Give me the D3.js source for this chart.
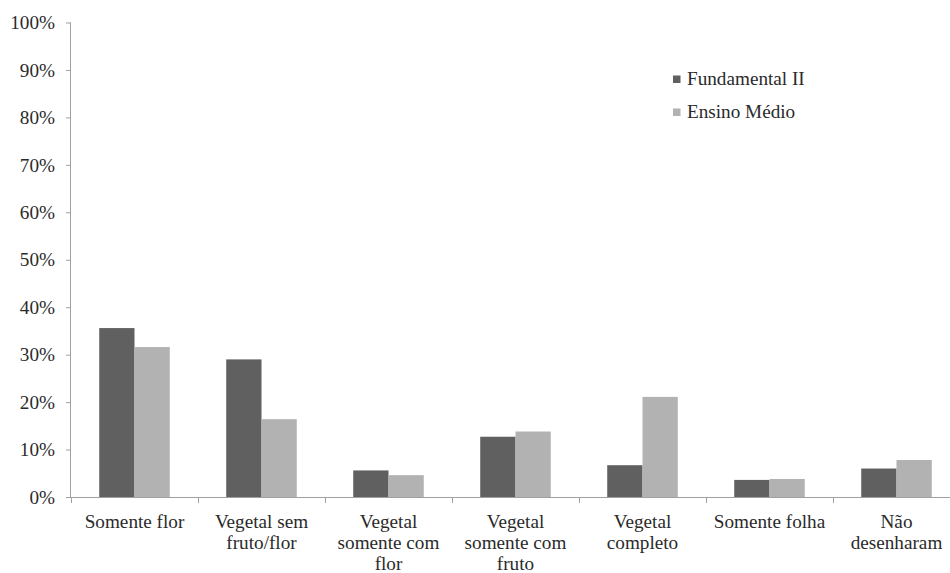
<!DOCTYPE html>
<html>
<head>
<meta charset="utf-8">
<script src="https://cdn.jsdelivr.net/npm/d3@7/dist/d3.min.js"></script>
<style>
  html, body { margin: 0; padding: 0; background: #fff; font-family: "Liberation Serif", serif; }
  svg { display: block; font-family: "Liberation Serif", serif; }
</style>
</head>
<body>
<svg id="chart" width="950" height="573" font-family="Liberation Serif"></svg>
<script>
const categories = ["Somente flor", "Vegetal sem fruto/flor", "Vegetal somente com flor", "Vegetal somente com fruto", "Vegetal completo", "Somente folha", "Não desenharam"];
const categoryLines = [["Somente flor"], ["Vegetal sem", "fruto/flor"], ["Vegetal", "somente com", "flor"], ["Vegetal", "somente com", "fruto"], ["Vegetal", "completo"], ["Somente folha"], ["Não", "desenharam"]];
const seriesNames = ["Fundamental II", "Ensino Médio"];
const fundamental = [35.6, 29.0, 5.6, 12.7, 6.7, 3.6, 6.0];
const ensinoMedio = [31.6, 16.4, 4.6, 13.8, 21.1, 3.8, 7.8];
const yTicks = [0, 10, 20, 30, 40, 50, 60, 70, 80, 90, 100];
const colors = ["#606060", "#b2b2b2"];

(function () {
const svg = d3.select("#chart");
const mLeft = 71, mRight = 960, mTop = 22.5, mBottom = 497;
const fontSize = 19.2;
const FONT = "Liberation Serif";
const textColor = "#2a2a2a";

const x = d3.scaleBand().domain(categories).range([mLeft, mRight]).paddingInner(0).paddingOuter(0);
const inner = d3.scaleBand().domain(seriesNames).range([0, x.bandwidth()]).paddingInner(0).paddingOuter(0.8);
const y = d3.scaleLinear().domain([0, 100]).range([mBottom, mTop]);

const axisColor = "#a0a0a0";

// y axis
const yAxis = svg.append("g").attr("transform", `translate(${mLeft},0)`)
  .call(d3.axisLeft(y).tickValues(yTicks).tickFormat(d => d + "%").tickSize(5).tickPadding(11));
yAxis.attr("font-family", FONT).attr("font-size", fontSize);
yAxis.select(".domain").attr("stroke", axisColor).attr("d", `M-0.5,${mTop}V${mBottom}`);
yAxis.selectAll(".tick line").attr("stroke", axisColor);
yAxis.selectAll(".tick text").attr("font-size", fontSize).style("font-family", FONT).attr("fill", textColor);

// x axis line and boundary ticks
const boundaries = categories.map(c => x(c));
svg.append("line").attr("x1", mLeft).attr("x2", mRight).attr("y1", mBottom + 0.5).attr("y2", mBottom + 0.5)
  .attr("stroke", axisColor);
svg.selectAll(".xtick").data(boundaries).enter().append("line")
  .attr("x1", d => Math.round(d) + 0.5).attr("x2", d => Math.round(d) + 0.5)
  .attr("y1", mBottom).attr("y2", mBottom + 6).attr("stroke", axisColor);

// bars
const data = [fundamental, ensinoMedio];
const groups = svg.append("g");
seriesNames.forEach((s, si) => {
  groups.selectAll(".bar" + si).data(categories).enter().append("rect")
    .attr("x", c => x(c) + inner(s))
    .attr("width", inner.bandwidth())
    .attr("y", (c, i) => y(data[si][i]))
    .attr("height", (c, i) => mBottom - y(data[si][i]))
    .attr("fill", colors[si]);
});

// category labels
const baseY = 527.5, lineH = 21.3;
const lbl = svg.selectAll(".cat").data(categories).enter().append("text")
  .attr("text-anchor", "middle")
  .attr("font-size", fontSize).style("font-family", FONT).attr("fill", textColor)
  .attr("x", c => x(c) + x.bandwidth() / 2)
  .attr("y", baseY);
lbl.each(function(c, i) {
  const t = d3.select(this);
  categoryLines[i].forEach((line, li) => {
    t.append("tspan").attr("x", x(c) + x.bandwidth() / 2).attr("y", baseY + li * lineH).text(line);
  });
});

// legend
const legend = svg.append("g").attr("transform", "translate(673,0)");
seriesNames.forEach((s, i) => {
  const yy = 85 + i * 33;
  legend.append("rect").attr("x", 0).attr("y", yy - 9.5).attr("width", 7.5).attr("height", 7.5).attr("fill", colors[i]);
  legend.append("text").attr("x", 14).attr("y", yy)
    .attr("font-size", fontSize).style("font-family", FONT).attr("fill", textColor).text(s);
});
})();
</script>
</body>
</html>
